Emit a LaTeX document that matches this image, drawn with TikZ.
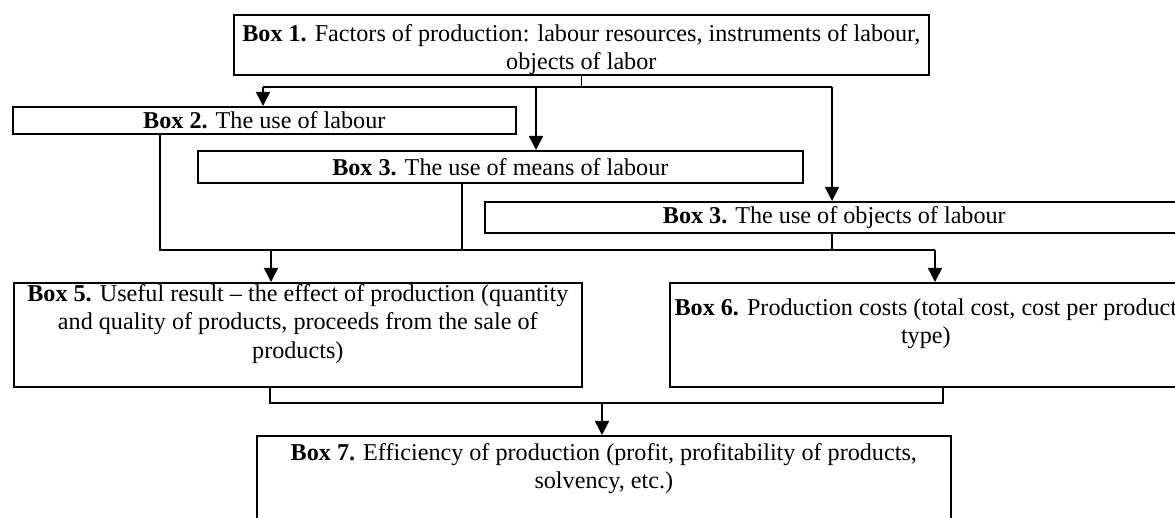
\documentclass[tikz,border=0pt]{standalone}
\usepackage{fontspec}
\setmainfont{Liberation Serif}
\usetikzlibrary{arrows.meta}
\begin{document}
\begin{tikzpicture}[x=0.02cm,y=-0.02cm,
  box/.style = {draw, line width=1pt, anchor=north west, inner sep=0pt, align=center, font=\fontsize{13.75}{16.2}\selectfont},
  link/.style = {line width=0.85pt},
  arr/.style = {link, -{Triangle[length=8pt,width=8pt]}},]
\clip (0,0) rectangle (1175,517);
\node (b1) at (233,14)[box, minimum width=13.9cm, minimum height=1.18cm] {\rule{0pt}{15pt}\textbf{Box 1.} Factors of production: labour resources, instruments of labour,\\ objects of labor};
\node (b2) at (12,106)[box, minimum width=10.06cm, minimum height=0.54cm] {\textbf{Box 2.} The use of labour};
\node (b3) at (197,150)[box, minimum width=12.1cm, minimum height=0.64cm] {\textbf{Box 3.} The use of means of labour};
\node (b4) at (484,201)[box, minimum width=13.98cm, minimum height=0.62cm] {\textbf{Box 3.} The use of objects of labour};
% the lower boxes keep some room under their text
\node (b5) at (13,282)[box, minimum width=11.36cm, minimum height=2.08cm] {\textbf{Box 5.} Useful result – the effect of production (quantity\\ and quality of products, proceeds from the sale of\\ products)\rule[-15.5pt]{0pt}{0pt}};
\node (b6) at (669,282)[box, minimum width=10.24cm, minimum height=2.08cm] {\textbf{Box 6.} Production costs (total cost, cost per product\\ type)\rule[-15.5pt]{0pt}{0pt}};
\node (b7) at (256,435)[box, minimum width=13.88cm, minimum height=1.74cm] {\textbf{Box 7.} Efficiency of production (profit, profitability of products,\\ solvency, etc.)\rule[-15.5pt]{0pt}{0pt}};
% from box 1 to boxes 2-4
\coordinate (a2) at (263,87);
\coordinate (a3) at (536,87);
\coordinate (a4) at (832,87);
\draw[link] (b1.south) -- (b1.south |- a2);
\draw[link] (a2) -- (a4);
\draw[arr] (a2) -- (a2 |- b2.north);
\draw[arr] (a3) -- (a3 |- b3.north);
\draw[arr] (a4) -- (a4 |- b4.north);
% from boxes 2-4 to boxes 5 and 6
\coordinate (m2) at (160,250);
\coordinate (m3) at (462,250);
\coordinate (m4) at (832,250);
\coordinate (m5) at (271,250);
\coordinate (m6) at (935,250);
\draw[link] (m2 |- b2.south) -- (m2) -- (m6);
\draw[link] (m3 |- b3.south) -- (m3);
\draw[link] (m4 |- b4.south) -- (m4);
\draw[arr] (m5) -- (m5 |- b5.north);
\draw[arr] (m6) -- (m6 |- b6.north);
% from boxes 5 and 6 to box 7
\coordinate (n5) at (270,403);
\coordinate (n6) at (943,403);
\coordinate (n7) at (602,403);
\draw[link] (n5 |- b5.south) -- (n5) -- (n6) -- (n6 |- b6.south);
\draw[arr] (n7) -- (n7 |- b7.north);
\end{tikzpicture}
\end{document}
